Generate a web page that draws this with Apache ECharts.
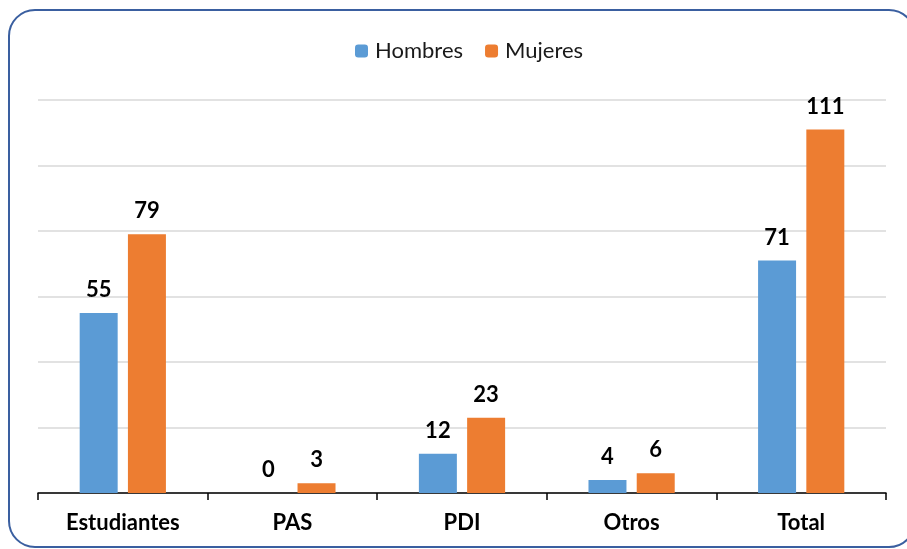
<!DOCTYPE html>
<html><head><meta charset="utf-8">
<script src="https://cdn.jsdelivr.net/npm/echarts@6/dist/echarts.min.js"></script>
<style>html,body{margin:0;padding:0;background:#fff}#c{width:907px;height:549px}</style>
</head><body><div id="c"></div>
<script>
var categories = ['Estudiantes', 'PAS', 'PDI', 'Otros', 'Total'];
var hombres = [55, 0, 12, 4, 71];
var mujeres = [79, 3, 23, 6, 111];
var seriesNames = ['Hombres', 'Mujeres'];

var chart = echarts.init(document.getElementById('c'));
var labelStyle = {show: true, position: 'top', distance: 12, color: '#000', fontWeight: 'bold', fontSize: 22, fontFamily: 'Lato'};
chart.setOption({
  animation: false,
  textStyle: {fontFamily: 'Lato'},
  graphic: [{type: 'rect', shape: {x: 9, y: 10, width: 906, height: 537, r: 26}, style: {fill: 'none', stroke: '#3A5FA0', lineWidth: 2}, z: 100}],
  legend: {top: 35, left: 350, itemWidth: 13, itemHeight: 13, itemGap: 22,
    textStyle: {fontSize: 22, color: '#1a1a1a', fontFamily: 'Lato', padding: [0, 0, 0, 2]}, data: seriesNames},
  grid: {left: 38, right: 21, top: 100, bottom: 56, containLabel: false},
  xAxis: {type: 'category', data: categories,
    axisLine: {lineStyle: {color: '#000', width: 1.5}},
    axisTick: {show: true, length: 7, lineStyle: {color: '#000', width: 1.5}},
    axisLabel: {fontWeight: 'bold', fontSize: 22, color: '#000', margin: 19, fontFamily: 'Lato'}},
  yAxis: {type: 'value', min: 0, max: 120, interval: 20,
    axisLabel: {show: false}, axisLine: {show: false}, axisTick: {show: false},
    splitLine: {lineStyle: {color: '#D9D9D9', width: 1.5}}},
  series: [
    {name: seriesNames[0], type: 'bar', data: hombres, barWidth: '22.4%', barGap: '27%', itemStyle: {color: '#5B9BD5'}, label: labelStyle},
    {name: seriesNames[1], type: 'bar', data: mujeres, barWidth: '22.4%', itemStyle: {color: '#ED7D31'}, label: labelStyle}
  ]
});
</script></body></html>
